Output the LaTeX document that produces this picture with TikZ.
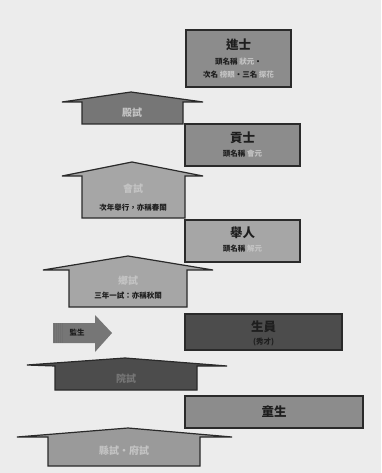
\documentclass[tikz,border=0pt]{standalone}
\usepackage{fontspec}
\setmainfont{Noto Sans CJK TC}
\definecolor{paper}{HTML}{ECECEC}
\definecolor{edge}{HTML}{2A2A2A}
\definecolor{gA}{HTML}{8C8C8C}
\definecolor{gB}{HTML}{767676}
\definecolor{gC}{HTML}{A6A6A6}
\definecolor{gD}{HTML}{4C4C4C}
\definecolor{gE}{HTML}{9A9A9A}
\definecolor{hl}{HTML}{C4C4C4}
\definecolor{ink}{HTML}{1E1E1E}
\tikzset{
  rankbox/.style={draw=edge, line width=1.6pt},
  house/.style={draw=edge, line width=1.2pt, line join=miter},
  ttl/.style={font=\bfseries\fontsize{12.5}{13}\selectfont, text=ink},
  sub/.style={font=\bfseries\fontsize{7.5}{8}\selectfont, text=ink},
  exam/.style={font=\bfseries\fontsize{10}{11}\selectfont},
}
\begin{document}
\begin{tikzpicture}[x=1pt,y=-1pt]
\useasboundingbox (0,0) rectangle (381,473);
\fill[paper] (0,0) rectangle (381,473);

% 進士
\draw[rankbox, fill=gA] (186,30) rectangle (291,87);
\node[ttl] (jinshi) at (238.5,45) {進士};
\node[sub] (jinshi1) at (238.5,62) {頭名稱 \textcolor{hl}{狀元}・};
\node[sub] (jinshi2) at (238.5,75) {次名 \textcolor{hl}{榜眼}・三名 \textcolor{hl}{探花}};

% 殿試
\draw[house, fill=gB] (62,102) -- (131,92) -- (203,102) -- (183,102) -- (183,124) -- (82,124) -- (82,102) -- cycle;
\node[exam, text=hl] (dianshi) at (132,113) {殿試};

% 貢士
\draw[rankbox, fill=gA] (185,124) rectangle (300,166);
\node[ttl] (gongshi) at (242.5,138) {貢士};
\node[sub] (gongshi1) at (242.5,154) {頭名稱 \textcolor{hl}{會元}};

% 會試
\draw[house, fill=gC] (62,176) -- (132,162) -- (203,176) -- (185,176) -- (185,218) -- (82,218) -- (82,176) -- cycle;
\node[exam, text=hl] (huishi) at (133,189) {會試};
\node[sub] (huishi1) at (133,208) {次年舉行，亦稱春闈};

% 舉人
\draw[rankbox, fill=gC] (185,220) rectangle (300,262);
\node[ttl] (juren) at (242.5,233) {舉人};
\node[sub] (juren1) at (242.5,249) {頭名稱 \textcolor{hl}{解元}};

% 鄉試
\draw[house, fill=gC] (43,270) -- (128,256) -- (213,270) -- (187,270) -- (187,307) -- (69,307) -- (69,270) -- cycle;
\node[exam, text=hl] (xiangshi) at (128,281) {鄉試};
\node[sub] (xiangshi1) at (128,296) {三年一試：亦稱秋闈};

% 監生 arrow
\fill[gB] (53,323) -- (95,323) -- (95,315) -- (112,333) -- (95,352) -- (95,343) -- (53,343) -- cycle;
\foreach \i in {0,...,4} \fill[gD!80] (54+2*\i,323) rectangle (55+2*\i,343);
\node[sub] (jiansheng) at (77,333) {監生};

% 生員
\draw[rankbox, fill=gD] (185,314) rectangle (342,350);
\node[ttl] (shengyuan) at (263.5,327) {生員};
\node[sub] (shengyuan1) at (263.5,342) {(秀才)};

% 院試
\draw[house, fill=gD] (27,365) -- (125,358) -- (227,366) -- (197,366) -- (197,390) -- (55,390) -- (55,366) -- cycle;
\node[exam, text=gB] (yuanshi) at (126,379) {院試};

% 童生
\draw[rankbox, fill=gA] (185,396) rectangle (363,428);
\node[ttl] (tongsheng) at (274,412) {童生};

% 縣試・府試
\draw[house, fill=gE] (17,437) -- (128,428) -- (232,437) -- (200,437) -- (200,466) -- (48,466) -- (48,437) -- cycle;
\node[exam, text=hl] (xianshi) at (124,451) {縣試・府試};
\end{tikzpicture}
\end{document}
